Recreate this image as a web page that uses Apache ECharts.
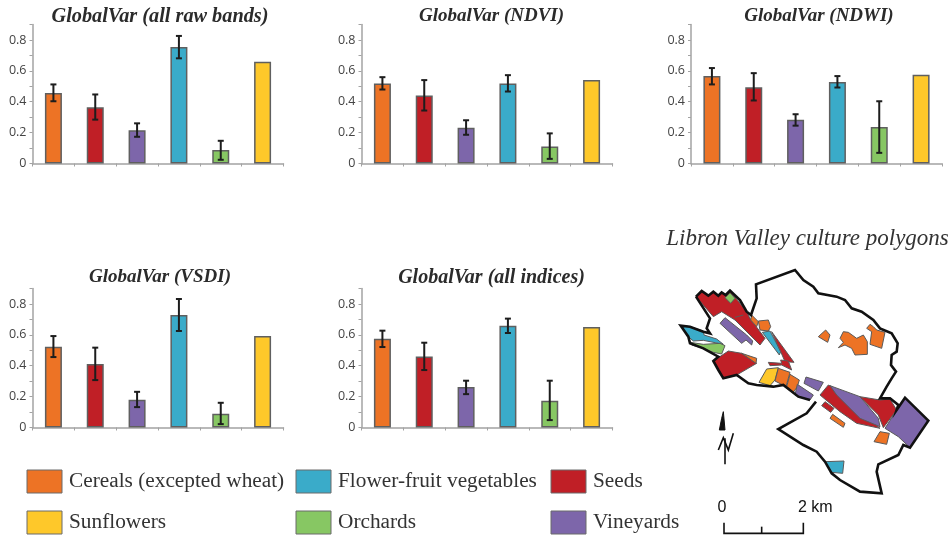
<!DOCTYPE html>
<html>
<head>
<meta charset="utf-8">
<style>
  html, body { margin: 0; padding: 0; background: #fff; }
  #chart { width: 952px; height: 539px; }
</style>
<script src="https://cdn.jsdelivr.net/npm/echarts@6/dist/echarts.min.js"></script>
</head>
<body>
<div id="chart"></div>
<script>
const categories = ["Cereals", "Seeds", "Vineyards", "Flower-fruit vegetables", "Orchards", "Sunflowers"];
const barColors = ["#ed7325", "#c01f26", "#7d66aa", "#3aabc9", "#87c763", "#fec82a"];
const yTickLabels = ["0", "0.2", "0.4", "0.6", "0.8"];

// bar height, then lower and upper end of the error bar (sunflowers have none)
const rawValues = [0.457, 0.364, 0.215, 0.754, 0.087, 0.659];
const rawLow = [0.403, 0.284, 0.173, 0.681, 0.024, null];
const rawHigh = [0.512, 0.447, 0.26, 0.826, 0.147, null];

const ndviValues = [0.518, 0.44, 0.232, 0.518, 0.11, 0.54];
const ndviLow = [0.479, 0.343, 0.186, 0.466, 0.03, null];
const ndviHigh = [0.559, 0.54, 0.28, 0.572, 0.195, null];

const ndwiValues = [0.566, 0.494, 0.284, 0.527, 0.236, 0.575];
const ndwiLow = [0.512, 0.408, 0.245, 0.492, 0.069, null];
const ndwiHigh = [0.618, 0.585, 0.319, 0.566, 0.403, null];

const vsdiValues = [0.523, 0.411, 0.18, 0.729, 0.089, 0.592];
const vsdiLow = [0.456, 0.307, 0.132, 0.625, 0.022, null];
const vsdiHigh = [0.592, 0.517, 0.231, 0.832, 0.16, null];

const indicesValues = [0.575, 0.46, 0.262, 0.659, 0.173, 0.651];
const indicesLow = [0.521, 0.372, 0.216, 0.612, 0.048, null];
const indicesHigh = [0.627, 0.549, 0.303, 0.705, 0.303, null];

const legendLabels = ["Cereals (excepted wheat)", "Flower-fruit vegetables", "Seeds", "Sunflowers", "Orchards", "Vineyards"];
const legendColors = ["#ed7325", "#3aabc9", "#c01f26", "#fec82a", "#87c763", "#7d66aa"];

// map sheet units, x to the right and y downwards
const outline = [[108,125],[125,108],[145,122],[160,110],[175,122],[185,112],[197,120],[210,107],[240,135],[260,170],[273,180],[290,130],[288,88],[405,45],[430,75],[460,95],[475,115],[530,125],[555,135],[575,160],[605,170],[640,195],[660,220],[695,235],[713,265],[710,290],[695,300],[693,330],[708,350],[695,370],[680,395],[660,430],[690,430],[715,450],[710,465],[735,428],[805,497],[750,578],[730,570],[715,600],[655,628],[650,650],[665,715],[600,710],[540,675],[515,655],[495,620],[470,590],[430,570],[355,522],[395,500],[440,475],[468,440]];
const outlineWest = [[450,435],[415,425],[370,390],[340,395],[290,390],[265,385],[230,360],[190,370],[175,345],[160,318],[175,305],[130,280],[90,265],[85,245],[62,212],[90,215],[130,230],[150,235],[140,220],[150,190],[108,125]];
const parcels = [
  { color: "#c01f26", points: [[108,125],[125,108],[145,122],[160,110],[175,122],[185,112],[197,120],[210,107],[260,170],[270,190],[315,250],[300,270],[225,195],[185,170],[160,185]] },
  { color: "#87c763", points: [[195,128],[210,113],[225,130],[212,145]] },
  { color: "#7d66aa", points: [[180,205],[195,188],[260,240],[278,258],[275,270],[258,255],[245,265]] },
  { color: "#3aabc9", points: [[62,212],[90,215],[130,228],[132,240],[170,252],[190,268],[130,256],[100,258],[85,245]] },
  { color: "#87c763", points: [[90,262],[130,268],[180,265],[195,272],[185,297],[160,292],[130,280],[95,270]] },
  { color: "#c01f26", points: [[160,318],[205,288],[245,295],[290,325],[230,360],[190,370],[175,345]] },
  { color: "#ed7325", points: [[245,295],[290,310],[288,325]] },
  { color: "#ed7325", points: [[275,180],[295,200],[290,215],[272,195]] },
  { color: "#ed7325", points: [[295,198],[325,195],[332,215],[325,228],[300,225]] },
  { color: "#3aabc9", points: [[307,232],[330,228],[362,290],[358,300]] },
  { color: "#c01f26", points: [[335,230],[402,322],[375,320],[362,290]] },
  { color: "#c01f26", points: [[325,322],[365,325],[362,315],[385,318],[395,345],[365,330],[330,332]] },
  { color: "#fec82a", points: [[320,342],[355,338],[345,375],[330,392],[297,382]] },
  { color: "#ed7325", points: [[355,340],[390,352],[378,395],[345,378]] },
  { color: "#ed7325", points: [[390,358],[418,375],[412,395],[400,412],[380,395]] },
  { color: "#7d66aa", points: [[412,388],[460,420],[450,435],[405,420]] },
  { color: "#7d66aa", points: [[438,366],[490,382],[475,408],[432,385]] },
  { color: "#c01f26", points: [[505,390],[515,395],[660,520],[590,505],[540,470],[480,420]] },
  { color: "#7d66aa", points: [[510,392],[600,425],[655,490],[660,515],[600,490],[530,420]] },
  { color: "#c01f26", points: [[600,425],[660,435],[690,432],[710,465],[670,518],[655,480]] },
  { color: "#7d66aa", points: [[735,428],[805,497],[750,578],[715,545],[675,520],[710,465]] },
  { color: "#c01f26", points: [[495,440],[522,460],[512,472],[485,452]] },
  { color: "#ed7325", points: [[518,478],[555,505],[550,517],[510,490]] },
  { color: "#ed7325", points: [[660,530],[688,535],[680,568],[642,560]] },
  { color: "#3aabc9", points: [[495,620],[552,618],[548,655],[515,652]] },
  { color: "#ed7325", points: [[497,225],[510,240],[503,262],[475,245]] },
  { color: "#ed7325", points: [[550,230],[565,232],[590,250],[610,240],[622,260],[622,298],[585,300],[575,280],[555,270],[535,278],[550,262],[540,250]] },
  { color: "#ed7325", points: [[630,208],[640,215],[650,225],[675,232],[665,280],[630,268],[635,230],[620,220]] }
];
const parcelEdge = [[225,187],[250,180]];
const northArrow = [[190,470],[195,525],[178,525],[185,490]];
const northStem = [[195,550],[195,628]];
const northLetter = [[175,585],[190,548],[205,585],[220,535]];
const scaleBar = [[192,803],[192,835],[430,835],[430,803]];
const scaleTick = [[305,815],[305,835]];

const panels = [
  { title: "GlobalVar (all raw bands)", values: rawValues, low: rawLow, high: rawHigh, left: 32.5, top: 24.5, titleX: 160, titleY: 7, titleSize: 20.3 },
  { title: "GlobalVar (NDVI)", values: ndviValues, low: ndviLow, high: ndviHigh, left: 361.5, top: 24.5, titleX: 491.5, titleY: 7, titleSize: 19 },
  { title: "GlobalVar (NDWI)", values: ndwiValues, low: ndwiLow, high: ndwiHigh, left: 691, top: 24.5, titleX: 819, titleY: 7, titleSize: 19 },
  { title: "GlobalVar (VSDI)", values: vsdiValues, low: vsdiLow, high: vsdiHigh, left: 32.5, top: 288.5, titleX: 160, titleY: 268, titleSize: 19 },
  { title: "GlobalVar (all indices)", values: indicesValues, low: indicesLow, high: indicesHigh, left: 361.5, top: 288.5, titleX: 491.5, titleY: 268, titleSize: 20 }
];

const chart = echarts.init(document.getElementById("chart"));

const grids = [];
const xAxes = [];
const yAxes = [];
const series = [];
const titles = [];

const axisGrey = "#a3a3a3";

panels.forEach((p, i) => {
  grids.push({ left: p.left, top: p.top, width: 251, height: 139 });
  xAxes.push({
    type: "category",
    gridIndex: i,
    data: categories,
    axisLabel: { show: false, interval: 0 },
    axisTick: { show: true, interval: 0, length: 3, lineStyle: { color: axisGrey, width: 1 } },
    axisLine: { lineStyle: { color: axisGrey, width: 1.5 } }
  });
  yAxes.push({
    type: "value",
    gridIndex: i,
    min: 0,
    max: 0.9,
    interval: 0.1,
    splitLine: { show: false },
    axisLine: { show: true, lineStyle: { color: axisGrey, width: 1.5 } },
    axisTick: { show: true, length: 3, lineStyle: { color: axisGrey, width: 1 } },
    axisLabel: {
      color: "#444",
      fontFamily: "Open Sans",
      fontSize: 12.5,
      margin: 6,
      formatter: (v) => {
        const s = String(Math.round(v * 10) / 10);
        return yTickLabels.includes(s) ? s : "";
      }
    }
  });
  titles.push({
    text: p.title,
    left: p.titleX,
    top: p.titleY,
    padding: 0,
    textAlign: "center",
    textStyle: { fontFamily: "Liberation Serif", fontStyle: "italic", fontWeight: "bold", fontSize: p.titleSize, color: "#2b2b2b" }
  });
  series.push({
    type: "bar",
    xAxisIndex: i,
    yAxisIndex: i,
    barWidth: 17,
    data: p.values.map((v, k) => ({
      value: v,
      itemStyle: { color: barColors[k], borderColor: "#5f5f5f", borderWidth: 1.5 }
    }))
  });
  series.push({
    type: "custom",
    xAxisIndex: i,
    yAxisIndex: i,
    z: 5,
    data: p.values.map((v, k) => [k, p.low[k], p.high[k]]).filter((d) => d[1] !== null),
    renderItem: (params, api) => {
      const lo = api.coord([api.value(0), api.value(1)]);
      const hi = api.coord([api.value(0), api.value(2)]);
      const style = { stroke: "#1d1d1d", lineWidth: 2 };
      const line = (x1, y1, x2, y2) => ({ type: "line", shape: { x1, y1, x2, y2 }, style });
      return {
        type: "group",
        children: [
          line(lo[0], lo[1], hi[0], hi[1]),
          line(lo[0] - 3, lo[1], lo[0] + 3, lo[1]),
          line(hi[0] - 3, hi[1], hi[0] + 3, hi[1])
        ]
      };
    }
  });
});

// map panel, on hidden axes so the sheet units go through the scales
const mapIndex = panels.length;
grids.push({ left: 660, top: 255, width: 292, height: 284 });
xAxes.push({ type: "value", gridIndex: mapIndex, min: 0, max: 876, show: false });
yAxes.push({ type: "value", gridIndex: mapIndex, min: 0, max: 852, inverse: true, show: false });

function mapSeries(shapes, z) {
  return {
    type: "custom",
    xAxisIndex: mapIndex,
    yAxisIndex: mapIndex,
    z,
    silent: true,
    data: shapes.map((s, k) => [k]),
    renderItem: (params, api) => {
      const s = shapes[api.value(0)];
      const pts = s.points.map((pt) => api.coord(pt));
      if (s.closed) {
        return { type: "polygon", shape: { points: pts }, style: { fill: s.color, stroke: s.stroke || "#5a5a5a", lineWidth: s.width || 1 } };
      }
      return { type: "polyline", shape: { points: pts }, style: { fill: null, stroke: s.stroke || "#111", lineWidth: s.width || 1.5 } };
    }
  };
}

series.push(mapSeries(parcels.map((p) => ({ points: p.points, color: p.color, closed: true })), 2));
series.push(mapSeries([
  { points: outline, width: 2.6 },
  { points: outlineWest, width: 2.6 },
  { points: parcelEdge, width: 1, stroke: "#5a5a5a" },
  { points: northArrow, closed: true, color: "#111", stroke: "#111" },
  { points: northStem, width: 1.6 },
  { points: northLetter, width: 1.6 },
  { points: scaleBar, width: 1.6 },
  { points: scaleTick, width: 1.6 }
], 3));

const legendBoxes = [[27, 470], [296, 470], [551, 470], [27, 511], [296, 511], [551, 511]];
const legendGraphics = [];
legendLabels.forEach((label, i) => {
  const [x, y] = legendBoxes[i];
  legendGraphics.push({
    type: "rect",
    shape: { x, y, width: 35, height: 23 },
    style: { fill: legendColors[i], stroke: "#6a6a6a", lineWidth: 1 }
  });
  legendGraphics.push({
    type: "text",
    x: x + 42,
    y: y + 11.5,
    style: { text: label, fill: "#333", font: "21.3px 'Liberation Serif'", textVerticalAlign: "middle" }
  });
});

legendGraphics.push({
  type: "text", x: 807.5, y: 239,
  style: { text: "Libron Valley culture polygons", fill: "#333", font: "italic 23px 'Liberation Serif'", textAlign: "center", textVerticalAlign: "middle" }
});
legendGraphics.push({
  type: "text", x: 722, y: 508,
  style: { text: "0", fill: "#111", font: "16px 'Liberation Sans'", textAlign: "center", textVerticalAlign: "middle" }
});
legendGraphics.push({
  type: "text", x: 798, y: 508,
  style: { text: "2 km", fill: "#111", font: "16px 'Liberation Sans'", textVerticalAlign: "middle" }
});

chart.setOption({
  animation: false,
  backgroundColor: "#fff",
  title: titles,
  grid: grids,
  xAxis: xAxes,
  yAxis: yAxes,
  series,
  graphic: legendGraphics
});

window.addEventListener("resize", () => chart.resize());
</script>
</body>
</html>
